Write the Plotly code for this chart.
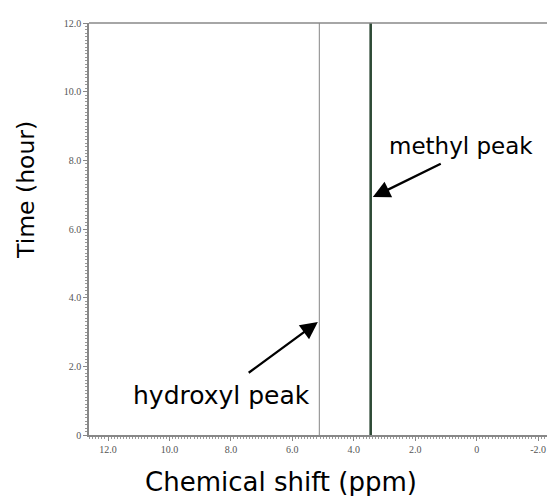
import plotly.graph_objects as go

# Data
peak_names = ["hydroxyl peak", "methyl peak"]
peak_shifts = [5.12, 3.45]        # ppm
time_span = [0.0, 12.0]           # hours
line_colors = ["#9a9a9a", "#2e4a36"]
line_widths = [1.2, 2.6]

# arrow endpoints (ppm, hour): tip and tail
arrow_tips = [(5.17, 3.29), (3.38, 6.93)]
arrow_tails = [(7.47, 1.78), (1.12, 7.92)]

x_tickvals = [12, 10, 8, 6, 4, 2, 0, -2]
x_ticktext = ["12.0", "10.0", "8.0", "6.0", "4.0", "2.0", "0", "-2.0"]
y_tickvals = [0, 2, 4, 6, 8, 10, 12]
y_ticktext = ["0", "2.0", "4.0", "6.0", "8.0", "10.0", "12.0"]

W, H = 547, 496
L, R, T, B = 89, 0, 23, 61

fig = go.Figure()
for name, s, c, w in zip(peak_names, peak_shifts, line_colors, line_widths):
    fig.add_trace(go.Scatter(x=[s, s], y=time_span, mode="lines",
                             line=dict(color=c, width=w), name=name,
                             showlegend=False, hoverinfo="skip"))

tickfont = dict(family="Liberation Serif, Times New Roman, serif", size=10, color="#555555")
sans = "DejaVu Sans, Verdana, sans-serif"

fig.update_layout(
    width=W, height=H,
    margin=dict(l=L, r=R, t=T, b=B, autoexpand=False),
    paper_bgcolor="white", plot_bgcolor="white",
    xaxis=dict(
        range=[12.62, -2.29], tickvals=x_tickvals, ticktext=x_ticktext, automargin=False,
        showgrid=False, zeroline=False, showline=True, linecolor="#888888", linewidth=1.5,
        ticks="outside", ticklen=4, tickcolor="#888888", tickfont=tickfont,
        minor=dict(dtick=0.1, ticks="outside", ticklen=2, tickcolor="#999999"),
    ),
    yaxis=dict(
        range=[0, 12], tickvals=y_tickvals, ticktext=y_ticktext, automargin=False,
        showgrid=False, zeroline=False, showline=True, linecolor="#888888", linewidth=1.5,
        ticks="outside", ticklen=4, tickcolor="#888888", tickfont=tickfont,
        minor=dict(dtick=0.1, ticks="outside", ticklen=2, tickcolor="#999999"),
    ),
    shapes=[dict(type="line", xref="paper", yref="paper", x0=0, x1=1, y0=1, y1=1,
                 line=dict(color="#888888", width=1.5))],
)

pw, ph = W - L - R, H - T - B
def px(x):  # screen pixel x -> paper
    return (x - L) / pw
def py(y):  # screen pixel y -> paper
    return (H - B - y) / ph

def label(text, x, y, size, angle=0):
    fig.add_annotation(x=px(x), y=py(y), xref="paper", yref="paper", text=text,
                       xanchor="center", yanchor="middle", textangle=angle,
                       showarrow=False, font=dict(family=sans, size=size, color="#000000"))

# axis titles placed as annotations
label("Chemical shift (ppm)", 281, 482, 26)
label("Time (hour)", 26, 190, 23.5, -90)

for (tx, ty), (sx, sy) in zip(arrow_tips, arrow_tails):
    fig.add_annotation(x=tx, y=ty, ax=sx, ay=sy, axref="x", ayref="y",
                       xref="x", yref="y", text="", showarrow=True, arrowhead=2, arrowsize=1.5,
                       arrowwidth=2.3, arrowcolor="#000000")

label("methyl peak", 461, 146, 23)
label("hydroxyl peak", 221, 395, 25)

fig.write_html("out.html", config={"displayModeBar": False},
               post_script="document.body.style.margin='0px';document.body.style.overflow='hidden';")
